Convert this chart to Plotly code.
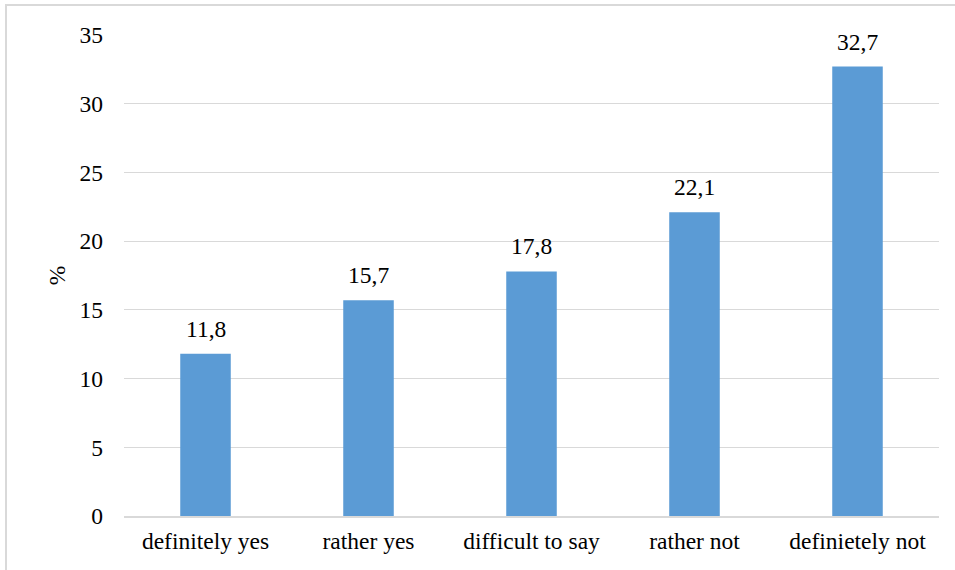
import plotly.graph_objects as go

categories = ["definitely yes", "rather yes", "difficult to say", "rather not", "definietely not"]
values = [11.8, 15.7, 17.8, 22.1, 32.7]
labels = ["11,8", "15,7", "17,8", "22,1", "32,7"]
yticks = [0, 5, 10, 15, 20, 25, 30, 35]

FONT = "Liberation Serif"
FS = 23.5

fig = go.Figure(go.Bar(
    x=categories, y=values,
    marker=dict(color="#5B9BD5", line=dict(width=0)),
))

annotations = [
    dict(x=c, y=v, text=t, showarrow=False, xref="x", yref="y",
         yanchor="bottom", yshift=10,
         font=dict(family=FONT, size=FS, color="#000000"))
    for c, v, t in zip(categories, values, labels)
]

fig.update_layout(
    width=955, height=570,
    margin=dict(l=124, r=16, t=35, b=54),
    paper_bgcolor="white", plot_bgcolor="white",
    bargap=0.69,
    showlegend=False,
    font=dict(family=FONT, size=FS, color="#000000"),
    xaxis=dict(showgrid=False, showline=True, linecolor="#d9d9d9", linewidth=2,
               ticks="", tickfont=dict(family=FONT, size=FS), ticklabelstandoff=3),
    yaxis=dict(range=[0, 35], tickvals=yticks, showgrid=True, gridcolor="#d9d9d9",
               gridwidth=1.3, zeroline=False, showline=False, ticks="",
               tickfont=dict(family=FONT, size=FS), ticklabelstandoff=20,
               title=dict(text="%", font=dict(family=FONT, size=FS), standoff=7)),
    annotations=annotations,
    shapes=[dict(type="rect", xref="paper", yref="paper",
                 x0=-0.1448, x1=1.2, y0=-0.3, y1=1.0624,
                 line=dict(color="#d9d9d9", width=2), fillcolor="rgba(0,0,0,0)")],
)

fig.write_html("out.html")
